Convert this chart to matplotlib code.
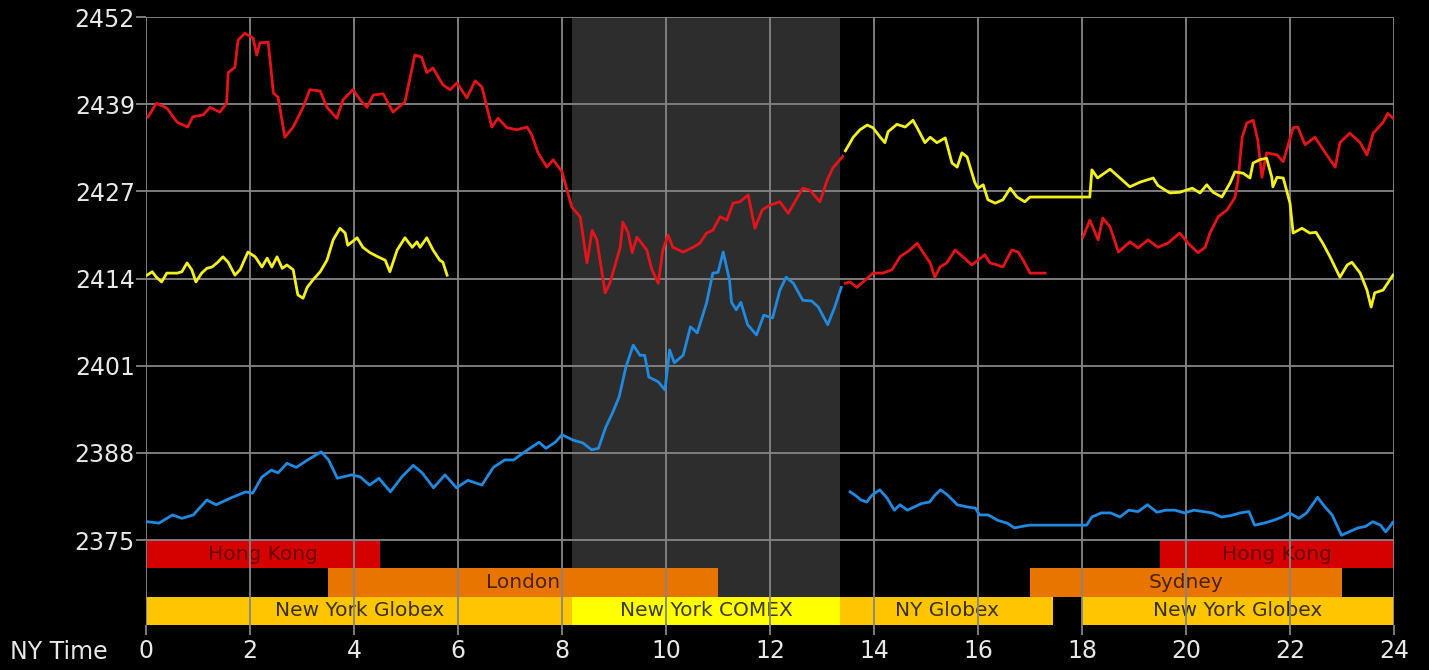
import numpy as np
import matplotlib
matplotlib.use('Agg')
import matplotlib.pyplot as plt
from matplotlib.patches import Rectangle

plt.rcParams['font.family'] = ['DejaVu Sans']

#########################################################################
# DATA
#########################################################################
# y axis tick labels (ticks are spaced evenly)
ytick_labels = ['2375', '2388', '2401', '2414', '2427', '2439', '2452']
xticks = [0, 2, 4, 6, 8, 10, 12, 14, 16, 18, 20, 22, 24]

# red line, part 1
red_a_t = [0.04, 0.2, 0.4, 0.6, 0.8, 0.9, 1.1, 1.23, 1.42, 1.55,
           1.58, 1.71, 1.77, 1.9, 2.06, 2.13, 2.19, 2.35, 2.45, 2.54,
           2.67, 2.83, 3.02, 3.15, 3.35, 3.48, 3.67, 3.79, 3.98, 4.12,
           4.25, 4.37, 4.56, 4.75, 4.98, 5.17, 5.3, 5.4, 5.52, 5.71,
           5.85, 5.98, 6.17, 6.33, 6.46, 6.65, 6.77, 6.94, 7.13, 7.33,
           7.42, 7.54, 7.71, 7.83, 8.0,
           8.19, 8.35, 8.48, 8.58, 8.67, 8.83, 8.92, 9.12, 9.17, 9.27,
           9.35, 9.44, 9.63, 9.73, 9.85, 9.94, 10.04, 10.13, 10.33, 10.52,
           10.65, 10.78, 10.9, 11.04, 11.17, 11.29, 11.42, 11.58, 11.71, 11.85,
           12.0, 12.19, 12.35, 12.48, 12.63, 12.77, 12.96, 13.1, 13.21, 13.4]
red_a_v = [2437.3, 2439.3, 2438.6, 2436.5, 2435.8, 2437.3, 2437.6, 2438.7, 2438.0, 2439.3,
           2443.8, 2444.6, 2448.6, 2449.6, 2448.9, 2446.4, 2448.2, 2448.3, 2440.8, 2440.2,
           2434.3, 2435.8, 2438.7, 2441.3, 2441.1, 2438.7, 2437.1, 2439.8, 2441.3, 2439.8,
           2438.7, 2440.5, 2440.7, 2438.0, 2439.5, 2446.4, 2446.1, 2443.8, 2444.5, 2442.0,
           2441.3, 2442.3, 2440.1, 2442.6, 2441.7, 2435.8, 2437.1, 2435.7, 2435.4, 2435.8,
           2434.6, 2432.0, 2429.9, 2431.0, 2429.2,
           2424.0, 2422.6, 2415.8, 2420.6, 2419.2, 2411.4, 2412.8, 2418.1, 2421.8, 2420.3,
           2417.3, 2419.6, 2417.7, 2414.8, 2412.8, 2417.7, 2419.9, 2418.1, 2417.4, 2418.1,
           2418.7, 2420.2, 2420.6, 2422.6, 2422.1, 2424.6, 2424.8, 2425.8, 2420.9, 2423.6,
           2424.3, 2424.8, 2423.1, 2424.8, 2426.8, 2426.5, 2424.8, 2428.0, 2429.8, 2431.5]

# red line, part 2
red_b_t = [13.45, 13.54, 13.67, 13.79, 13.98, 14.17, 14.35, 14.5, 14.69, 14.83,
           14.94, 15.08, 15.17, 15.27, 15.4, 15.56, 15.71, 15.88, 16.0, 16.13,
           16.23, 16.37, 16.48, 16.65, 16.77, 16.87, 17.0, 17.29]
red_b_v = [2412.8, 2413.0, 2412.2, 2413.0, 2414.3, 2414.3, 2414.8, 2416.7, 2417.7, 2418.7,
           2417.4, 2415.8, 2413.7, 2415.2, 2415.8, 2417.7, 2416.7, 2415.5, 2416.2, 2417.0,
           2415.8, 2415.5, 2415.2, 2417.7, 2417.4, 2416.2, 2414.3, 2414.3]

# red line, part 3
red_c_t = [18.02, 18.15, 18.31, 18.4, 18.54, 18.7, 18.92, 19.08, 19.27, 19.46,
           19.65, 19.88, 20.04, 20.23, 20.37, 20.46, 20.62, 20.79, 20.94, 21.0,
           21.08, 21.17, 21.29, 21.38, 21.46, 21.55, 21.75, 21.87, 22.06, 22.15,
           22.29, 22.48, 22.67, 22.87, 22.96, 23.15, 23.35, 23.48, 23.6, 23.79,
           23.88, 23.98]
red_c_v = [2419.6, 2422.1, 2419.2, 2422.4, 2421.1, 2417.4, 2418.9, 2418.0, 2419.2, 2418.1,
           2418.7, 2420.2, 2418.7, 2417.3, 2418.1, 2420.2, 2422.6, 2423.6, 2425.4, 2428.0,
           2434.3, 2436.4, 2436.8, 2433.9, 2428.4, 2432.0, 2431.7, 2430.7, 2435.7, 2435.8,
           2433.2, 2434.3, 2432.1, 2429.9, 2433.5, 2434.9, 2433.5, 2431.7, 2434.9, 2436.5,
           2437.8, 2437.1]

# yellow line, part 1
yel_a_t = [0.02, 0.12, 0.2, 0.3, 0.4, 0.6, 0.69, 0.79, 0.88, 0.96,
           1.07, 1.17, 1.27, 1.38, 1.48, 1.58, 1.71, 1.81, 1.96, 2.1,
           2.23, 2.33, 2.42, 2.52, 2.62, 2.71, 2.83, 2.92, 3.02, 3.1,
           3.21, 3.35, 3.48, 3.6, 3.73, 3.83, 3.88, 4.06, 4.17, 4.31,
           4.46, 4.6, 4.69, 4.83, 4.98, 5.12, 5.21, 5.27, 5.4, 5.52,
           5.65, 5.71, 5.79]
yel_a_v = [2414.0, 2414.5, 2413.7, 2413.0, 2414.3, 2414.3, 2414.5, 2415.8, 2414.8, 2413.0,
           2414.3, 2415.0, 2415.2, 2415.9, 2416.7, 2415.9, 2414.0, 2414.8, 2417.4, 2416.7,
           2415.2, 2416.5, 2415.2, 2416.7, 2415.0, 2415.5, 2414.8, 2411.1, 2410.6, 2412.2,
           2413.3, 2414.5, 2416.2, 2419.2, 2420.9, 2420.2, 2418.4, 2419.5, 2418.1, 2417.3,
           2416.7, 2416.2, 2414.5, 2417.7, 2419.5, 2418.1, 2418.9, 2418.1, 2419.5, 2417.7,
           2416.2, 2415.9, 2414.0]

# yellow line, part 2
yel_b_t = [13.45, 13.6, 13.73, 13.87, 13.98, 14.12, 14.21, 14.27, 14.44, 14.6,
           14.75, 14.85, 14.98, 15.08, 15.21, 15.37, 15.5, 15.6, 15.69, 15.79,
           15.94, 16.0, 16.1, 16.19, 16.33, 16.48, 16.62, 16.75, 16.9, 17.0,
           18.15, 18.19, 18.3, 18.54, 18.73, 18.92, 19.12, 19.37, 19.46, 19.69,
           19.88, 20.12, 20.27, 20.4, 20.52, 20.69, 20.85, 20.94, 21.1, 21.23,
           21.29, 21.42, 21.55, 21.65, 21.67, 21.75, 21.87, 22.0, 22.06, 22.23,
           22.38, 22.5, 22.63, 22.77, 22.96, 23.1, 23.19, 23.35, 23.48, 23.56,
           23.63, 23.79, 23.98]
yel_b_v = [2432.3, 2434.3, 2435.4, 2436.1, 2435.7, 2434.3, 2433.5, 2435.1, 2436.2, 2435.8,
           2436.8, 2435.4, 2433.5, 2434.3, 2433.5, 2434.2, 2430.5, 2429.9, 2432.0, 2431.4,
           2427.6, 2426.8, 2427.3, 2425.1, 2424.6, 2425.1, 2426.8, 2425.5, 2424.8, 2425.5,
           2425.5, 2429.5, 2428.3, 2429.6, 2428.3, 2427.0, 2427.7, 2428.3, 2427.2, 2426.1,
           2426.2, 2426.8, 2426.1, 2427.3, 2426.2, 2425.5, 2427.6, 2429.2, 2429.0, 2428.3,
           2430.5, 2431.0, 2431.2, 2428.4, 2427.0, 2428.4, 2428.3, 2424.6, 2420.2, 2420.9,
           2420.2, 2420.3, 2418.7, 2416.7, 2413.7, 2415.5, 2415.9, 2414.3, 2411.8, 2409.3,
           2411.4, 2411.8, 2414.0]

# blue line, part 1
blue_a_t = [0.03, 0.25, 0.51, 0.69, 0.91, 1.17, 1.35, 1.66, 1.92, 2.05,
            2.23, 2.41, 2.54, 2.71, 2.89, 3.11, 3.37, 3.51, 3.68, 3.95,
            4.12, 4.3, 4.48, 4.7, 4.92, 5.14, 5.31, 5.53, 5.75, 5.97,
            6.19, 6.46, 6.68, 6.9, 7.07, 7.25, 7.38, 7.56, 7.69, 7.87,
            8.0, 8.22, 8.4, 8.57, 8.7, 8.84, 8.97, 9.1, 9.23, 9.37,
            9.5, 9.59, 9.67, 9.85, 9.98, 10.07, 10.16, 10.33, 10.47, 10.6,
            10.78, 10.9, 11.0, 11.1, 11.22, 11.26, 11.35, 11.44, 11.57, 11.74,
            11.88, 12.05, 12.19, 12.31, 12.45, 12.63, 12.8, 12.93, 13.11, 13.24,
            13.37]
blue_a_v = [2377.7, 2377.5, 2378.7, 2378.2, 2378.7, 2380.9, 2380.2, 2381.3, 2382.1, 2381.9,
            2384.3, 2385.3, 2384.9, 2386.3, 2385.7, 2386.8, 2388.0, 2386.8, 2384.1, 2384.6,
            2384.3, 2383.1, 2384.1, 2382.1, 2384.3, 2386.0, 2384.9, 2382.7, 2384.6, 2382.7,
            2383.8, 2383.1, 2385.7, 2386.8, 2386.8, 2387.8, 2388.5, 2389.4, 2388.5, 2389.4,
            2390.5, 2389.7, 2389.3, 2388.3, 2388.5, 2391.6, 2393.7, 2396.1, 2400.5, 2403.7,
            2402.2, 2402.2, 2399.0, 2398.3, 2397.1, 2403.0, 2401.1, 2402.2, 2406.4, 2405.5,
            2409.9, 2414.3, 2414.4, 2417.4, 2413.3, 2410.0, 2408.9, 2410.0, 2406.7, 2405.2,
            2408.1, 2407.7, 2411.8, 2413.7, 2412.8, 2410.3, 2410.2, 2409.3, 2406.7, 2409.2,
            2412.2]

# blue line, part 2
blue_b_t = [13.54, 13.64, 13.75, 13.86, 13.96, 14.11, 14.25, 14.39, 14.5, 14.64,
            14.78, 14.92, 15.07, 15.17, 15.28, 15.42, 15.6, 15.78, 15.95, 16.03,
            16.2, 16.38, 16.56, 16.7, 16.84, 16.99, 18.09, 18.19, 18.37, 18.55,
            18.73, 18.9, 19.08, 19.26, 19.44, 19.61, 19.79, 19.97, 20.15, 20.33,
            20.5, 20.68, 20.86, 21.04, 21.21, 21.32, 21.5, 21.68, 21.85, 21.99,
            22.17, 22.32, 22.53, 22.67, 22.81, 22.99, 23.1, 23.31, 23.45, 23.59,
            23.74, 23.84, 23.99]
blue_b_v = [2382.1, 2381.6, 2380.9, 2380.6, 2381.6, 2382.4, 2381.2, 2379.4, 2380.2, 2379.4,
            2379.9, 2380.4, 2380.6, 2381.6, 2382.4, 2381.6, 2380.2, 2379.9, 2379.7, 2378.7,
            2378.7, 2377.9, 2377.5, 2376.8, 2377.0, 2377.2, 2377.2, 2378.4, 2379.0, 2379.0,
            2378.4, 2379.4, 2379.2, 2380.2, 2379.1, 2379.4, 2379.4, 2379.0, 2379.4, 2379.2,
            2379.0, 2378.4, 2378.6, 2379.0, 2379.2, 2377.2, 2377.5, 2377.9, 2378.4, 2379.0,
            2378.2, 2379.0, 2381.3, 2379.9, 2378.7, 2375.7, 2376.1, 2376.8, 2377.0, 2377.7,
            2377.2, 2376.2, 2377.7]

# trading sessions (row 0 = top)
session_names = ['Hong Kong', 'Hong Kong', 'London', 'Sydney',
                 'New York Globex', 'New York COMEX', 'NY Globex', 'New York Globex']
session_start = [0, 19.5, 3.5, 17, 0, 8.2, 13.35, 18]
session_end = [4.5, 24, 11, 23, 8.2, 13.35, 17.45, 24]
session_row = [0, 0, 1, 1, 2, 2, 2, 2]

comex_start = 8.2
comex_end = 13.35

#########################################################################
# STYLE
#########################################################################
bg = '#000000'
grid_col = '#858585'
text_col = '#e8e8e8'
red = '#e5141a'
yellow = '#f2f21a'
blue = '#1f8ae0'
session_face = {'Hong Kong': '#d50000', 'London': '#e87500', 'Sydney': '#e87500',
                'New York Globex': '#ffc600', 'NY Globex': '#ffc600',
                'New York COMEX': '#ffff00'}
session_text = {'Hong Kong': '#6a0000', 'London': '#4a2200', 'Sydney': '#4a2200',
                'New York Globex': '#3c3000', 'NY Globex': '#3c3000',
                'New York COMEX': '#3c3c00'}

ytop = 2452
ybase = 2375
ymin = 2362.5
row_h = (ybase - ymin) / 3

#########################################################################
# PLOT
#########################################################################
fig = plt.figure(figsize=(14.29, 6.70), dpi=100, facecolor=bg)
ax = fig.add_axes([146 / 1429, 1 - 625 / 670, (1394 - 146) / 1429, (625 - 17) / 670])
ax.set_facecolor(bg)

ax.axvspan(comex_start, comex_end, color='#2d2d2d', zorder=0, lw=0)

for name, s, e, r in zip(session_names, session_start, session_end, session_row):
    y0 = ybase - (r + 1) * row_h
    ax.add_patch(Rectangle((s, y0), e - s, row_h, facecolor=session_face[name],
                           edgecolor='none', zorder=1))
    ax.text((s + e) / 2, y0 + row_h / 2, name, ha='center', va='center',
            fontsize=14.5, color=session_text[name], zorder=2)

for t, v, c in [(red_a_t, red_a_v, red), (red_b_t, red_b_v, red),
                (red_c_t, red_c_v, red), (yel_a_t, yel_a_v, yellow),
                (yel_b_t, yel_b_v, yellow), (blue_a_t, blue_a_v, blue),
                (blue_b_t, blue_b_v, blue)]:
    ax.plot(t, v, color=c, lw=2.0, zorder=4, solid_joinstyle='round')

yticks = np.linspace(ybase, ytop, len(ytick_labels))
ax.set_yticks(yticks)
ax.set_yticklabels(ytick_labels)
ax.set_xticks(xticks)
ax.set_xlim(0, 24)
ax.set_ylim(ymin, ytop)

ax.grid(True, color=grid_col, lw=1.3, zorder=3)
ax.set_axisbelow(False)
for sp in ax.spines.values():
    sp.set_visible(False)
ax.tick_params(axis='both', colors=grid_col, labelcolor=text_col,
               labelsize=17, length=7, width=1.3)
ax.tick_params(axis='y', pad=1)
ax.tick_params(axis='x', pad=3)

fig.text(10 / 1429, 1 - 652 / 670, 'NY Time', color=text_col, fontsize=17,
         ha='left', va='center')

fig.savefig('out.png', dpi=100, facecolor=bg)
